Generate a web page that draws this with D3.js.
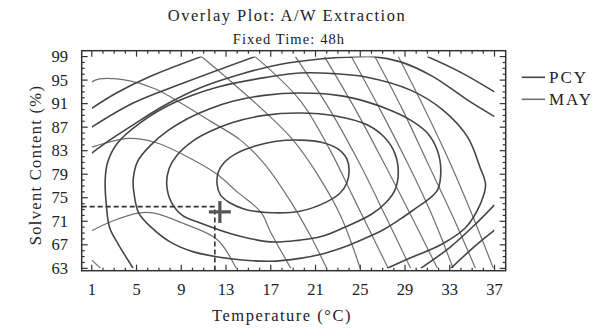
<!DOCTYPE html>
<html><head><meta charset="utf-8">
<script src="https://cdn.jsdelivr.net/npm/d3@7/dist/d3.min.js"></script>
<style>body{margin:0;background:#fff}svg{display:block}text{font-family:"Liberation Serif","Times New Roman",serif;fill:#222}</style>
</head><body><svg id="c" width="603" height="328"></svg>
<script>
const xTicks = [1,5,9,13,17,21,25,29,33,37];
const yTicks = [63,67,71,75,79,83,87,91,95,99];
const legendLabels = ["PCY","MAY"];
const fixedPoint = [12.0, 73.5];
const optimum = [12.45, 72.6];

// PCY contour lines (Temperature, Solvent); closed loops repeat their first point
const pcyContours = [
 [[19.6,84.8],[21.6,84.4],[23.0,83.3],[23.8,81.6],[24.0,79.7],[23.8,77.5],[23.2,75.8],[22.0,74.3],[19.6,72.7],[16.6,72.5],[14.6,73.1],[13.3,74.2],[12.5,75.5],[12.2,77.3],[12.3,79.3],[12.8,80.9],[13.9,82.5],[15.6,83.8],[17.5,84.6],[19.6,84.8]],
 [[19.6,89.4],[22.8,88.9],[25.6,87.4],[27.2,85.2],[28.1,82.5],[28.4,79.3],[28.1,76.3],[27.3,74.2],[26.0,72.2],[23.5,69.9],[21.5,68.4],[19.6,67.8],[17.0,67.5],[13.6,68.8],[10.7,70.7],[9.1,72.0],[8.1,74.3],[7.7,77.2],[7.9,79.9],[8.6,82.2],[10.0,84.6],[11.6,86.3],[13.6,87.8],[16.4,89.0],[19.6,89.4]],
 [[19.6,92.8],[23.0,92.4],[25.6,91.3],[27.8,89.8],[29.5,88.2],[31.0,86.0],[31.9,83.0],[32.2,79.5],[31.9,76.3],[31.0,74.6],[30.1,73.4],[28.6,71.4],[27.1,69.6],[25.3,68.0],[23.5,66.6],[21.5,65.4],[19.6,64.7],[17.0,64.2],[13.6,64.6],[10.1,65.8],[8.0,67.5],[6.3,70.0],[5.2,72.4],[4.8,75.4],[4.7,78.0],[5.1,81.2],[6.3,84.0],[7.8,86.4],[9.5,88.4],[11.5,90.1],[13.6,91.4],[16.4,92.4],[19.6,92.8]],
 [[4.7,63.0],[3.4,67.0],[2.6,69.9],[2.3,73.8],[2.2,78.0],[2.4,80.9],[3.3,84.3],[5.3,87.7],[8.3,91.1],[12.2,93.8],[16.7,95.5],[19.6,96.2],[22.6,96.1],[25.6,95.5],[29.5,93.3],[32.4,89.9],[34.6,85.3],[35.7,80.2],[36.2,77.2],[35.7,73.8],[34.4,69.9],[32.2,67.0],[29.5,64.8],[27.4,63.0]],
 [[1.0,82.6],[2.6,84.8],[4.7,87.4],[7.6,90.8],[10.7,93.7],[14.3,96.0],[17.9,97.7],[21.4,98.6],[24.1,98.9],[26.2,99.0],[28.6,98.1],[31.5,95.6],[34.6,91.6],[37.0,88.8]],
 [[30.4,63.0],[33.1,66.7],[35.4,70.7],[37.0,73.8]],
 [[1.0,87.0],[4.7,91.1],[9.2,94.5],[15.6,99.0]],
 [[31.0,99.0],[33.9,96.4],[37.0,93.0]],
 [[33.1,63.0],[35.2,66.7],[37.0,69.5]],
 [[1.0,90.2],[3.2,92.8],[6.2,95.6],[10.8,99.0]]
];

// MAY contour lines
const mayContours = [
 [[1.0,94.7],[1.7,95.2],[4.3,94.9],[6.7,93.5],[9.4,90.6],[11.7,87.9],[14.3,84.8],[16.5,80.6],[18.7,74.6],[20.5,68.7],[22.0,63.0]],
 [[1.0,83.6],[4.3,85.1],[6.7,84.4],[9.1,82.4],[12.2,79.0],[14.0,76.0],[16.1,72.6],[17.0,69.1],[18.8,63.0]],
 [[1.0,69.4],[2.8,71.0],[5.1,72.4],[6.6,72.4],[9.1,70.7],[12.2,67.9],[13.9,63.0]],
 [[1.0,64.4],[1.8,63.0]],
 [[10.8,99.0],[13.6,94.5],[16.6,89.4],[19.0,84.8],[21.2,78.9],[23.2,72.1],[25.0,63.0]],
 [[15.6,99.0],[19.6,91.6],[22.3,83.1],[24.5,74.6],[27.5,63.0]],
 [[19.2,99.0],[22.3,89.9],[25.0,80.6],[27.2,72.1],[29.5,63.0]],
 [[21.8,99.0],[24.6,89.9],[27.2,80.6],[29.5,72.1],[31.9,63.0]],
 [[24.2,99.0],[26.8,89.9],[29.3,80.6],[31.4,72.1],[33.3,63.0]],
 [[26.3,99.0],[28.8,89.9],[31.1,80.6],[33.2,72.1],[35.3,63.0]],
 [[28.4,99.0],[30.8,89.9],[33.1,80.6],[35.0,72.1],[36.9,63.0]]
];

const svg = d3.select("#c");
const L=81.7, R=505.7, T=50.7, B=270.7;
const x = d3.scaleLinear().domain([0.1,38]).range([L,R]);
const y = d3.scaleLinear().domain([62.6,100]).range([B,T]);

svg.append("defs").append("clipPath").attr("id","clip").append("rect")
  .attr("x",x(1)).attr("y",y(99)).attr("width",x(37)-x(1)).attr("height",y(63)-y(99));

const openLine = d3.line().x(d=>x(d[0])).y(d=>y(d[1])).curve(d3.curveCatmullRom.alpha(0.5));
const closedLine = d3.line().x(d=>x(d[0])).y(d=>y(d[1])).curve(d3.curveCatmullRomClosed.alpha(0.5));
const isClosed = c => c.length>3 && c[0][0]===c[c.length-1][0] && c[0][1]===c[c.length-1][1];
const pathOf = c => isClosed(c) ? closedLine(c.slice(0,-1)) : openLine(c);

const g = svg.append("g").attr("clip-path","url(#clip)").attr("fill","none").attr("stroke-linejoin","round");
g.selectAll("path.may").data(mayContours).join("path").attr("class","may")
  .attr("d",pathOf).attr("stroke","#707070").attr("stroke-width",1.2);
g.selectAll("path.pcy").data(pcyContours).join("path").attr("class","pcy")
  .attr("d",pathOf).attr("stroke","#454545").attr("stroke-width",1.6);

// dashed guide lines and optimum marker
svg.append("path").attr("d",`M${L},${y(fixedPoint[1])}H${x(fixedPoint[0])}V${B}`)
  .attr("fill","none").attr("stroke","#333").attr("stroke-width",1.6).attr("stroke-dasharray","5,3");
const cx=x(optimum[0]), cy=y(optimum[1]);
svg.append("path").attr("d",`M${cx-11},${cy}H${cx+11}M${cx},${cy-11}V${cy+11}`)
  .attr("stroke","#555").attr("stroke-width",3.2);

// frame
svg.append("rect").attr("x",L).attr("y",T).attr("width",R-L).attr("height",B-T)
  .attr("fill","none").attr("stroke","#333").attr("stroke-width",1.5);

// ticks (inward, all four sides)
const xMinor = d3.range(1,38,1), yMinor = d3.range(63,100,1);
const tk = svg.append("g").attr("stroke","#333").attr("stroke-width",1.2);
xMinor.forEach(v=>{const len = xTicks.includes(v)?6:3;
  tk.append("line").attr("x1",x(v)).attr("x2",x(v)).attr("y1",B).attr("y2",B-len);
  tk.append("line").attr("x1",x(v)).attr("x2",x(v)).attr("y1",T).attr("y2",T+len);});
yMinor.forEach(v=>{const len = yTicks.includes(v)?6:3;
  tk.append("line").attr("y1",y(v)).attr("y2",y(v)).attr("x1",L).attr("x2",L+len);
  tk.append("line").attr("y1",y(v)).attr("y2",y(v)).attr("x1",R).attr("x2",R-len);});

svg.selectAll("text.xt").data(xTicks).join("text").attr("class","xt")
  .attr("x",d=>x(d)).attr("y",295).attr("text-anchor","middle").attr("font-size",16.5).text(d=>d);
svg.selectAll("text.yt").data(yTicks).join("text").attr("class","yt")
  .attr("x",68).attr("y",d=>y(d)+5.5).attr("text-anchor","end").attr("font-size",16.5).text(d=>d);

svg.append("text").attr("x",287).attr("y",21).attr("text-anchor","middle").attr("font-size",16.5)
  .attr("letter-spacing",1.5).text("Overlay Plot: A/W Extraction");
svg.append("text").attr("x",289).attr("y",44).attr("text-anchor","middle").attr("font-size",14.5)
  .attr("letter-spacing",1.1).text("Fixed Time: 48h");
svg.append("text").attr("x",282).attr("y",321).attr("text-anchor","middle").attr("font-size",16.5)
  .attr("letter-spacing",1.5).text("Temperature (°C)");
svg.append("text").attr("transform","translate(41,165) rotate(-90)").attr("text-anchor","middle")
  .attr("font-size",16.5).attr("letter-spacing",1.3).text("Solvent Content (%)");

const lg = svg.append("g");
legendLabels.forEach((t,i)=>{const yy=77.3+i*22;
  lg.append("line").attr("x1",521.7).attr("x2",545).attr("y1",yy).attr("y2",yy)
    .attr("stroke", i===0?"#454545":"#707070").attr("stroke-width",1.6);
  lg.append("text").attr("x",549).attr("y",yy+6).attr("font-size",17).attr("letter-spacing",2).text(t);});
</script></body></html>
